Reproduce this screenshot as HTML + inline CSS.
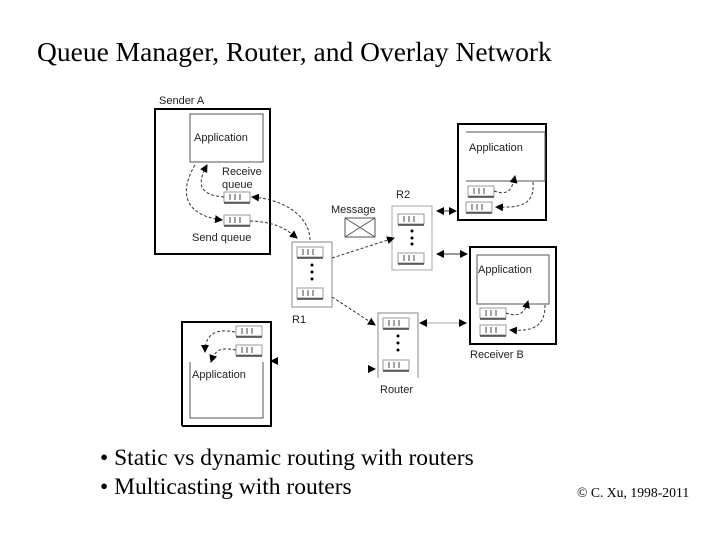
<!DOCTYPE html>
<html><head><style>
body{margin:0;background:#fff;}
svg{display:block}
.s{font-family:"Liberation Sans",sans-serif;font-size:11px;fill:#222}
.t{font-family:"Liberation Serif",serif;fill:#000}
</style></head><body>
<svg width="720" height="540" viewBox="0 0 720 540" xmlns="http://www.w3.org/2000/svg">
<defs>
<marker id="a" markerWidth="8" markerHeight="8" refX="7" refY="4" orient="auto" markerUnits="userSpaceOnUse"><path d="M0,0 L8,4 L0,8 z" fill="#000"/></marker>
<marker id="b" markerWidth="8" markerHeight="8" refX="1" refY="4" orient="auto" markerUnits="userSpaceOnUse"><path d="M8,0 L0,4 L8,8 z" fill="#000"/></marker>
<g id="q"><rect x="0" y="0" width="26" height="10" fill="none" stroke="#999"/><path d="M6,2v6M11,2v6M16,2v6" fill="none" stroke="#444"/><path d="M0,11h26" fill="none" stroke="#444" stroke-width="1.5"/></g>
</defs>
<text class="t" x="37" y="61" font-size="27.5">Queue Manager, Router, and Overlay Network</text>

<g fill="none" stroke="#000">
<rect x="155" y="109" width="115" height="145" stroke-width="2"/>
<rect x="190" y="114" width="73" height="48" stroke="#555"/>
<rect x="458" y="124" width="88" height="96" stroke-width="2"/>
<polyline points="466,132 545,132 545,181 466,181" stroke="#555"/>
<rect x="470" y="247" width="86" height="97" stroke-width="2"/>
<rect x="477" y="255" width="72" height="49" stroke="#555"/>
<polyline points="182,426 182,322 271,322 271,426 182,426" stroke-width="2"/>
<polyline points="190,362 190,418 263,418 263,362" stroke="#555"/>
<rect x="292" y="242" width="40" height="65" stroke="#888"/>
<rect x="392" y="206" width="40" height="64" stroke="#aaa"/>
<polyline points="378,378 378,313 418,313 418,378" stroke="#888"/>
</g>

<use href="#q" x="224" y="192"/>
<use href="#q" x="224" y="215"/>
<use href="#q" x="297" y="247"/>
<use href="#q" x="297" y="288"/>
<use href="#q" x="398" y="214"/>
<use href="#q" x="398" y="253"/>
<use href="#q" x="383" y="318"/>
<use href="#q" x="383" y="360"/>
<use href="#q" x="468" y="186"/>
<use href="#q" x="466" y="202"/>
<use href="#q" x="480" y="308"/>
<use href="#q" x="480" y="325"/>
<use href="#q" x="236" y="326"/>
<use href="#q" x="236" y="345"/>

<g fill="#000">
<circle cx="312" cy="265" r="1.5"/><circle cx="312" cy="272" r="1.5"/><circle cx="312" cy="279" r="1.5"/>
<circle cx="412" cy="231" r="1.5"/><circle cx="412" cy="238" r="1.5"/><circle cx="412" cy="244" r="1.5"/>
<circle cx="398" cy="336" r="1.5"/><circle cx="398" cy="343" r="1.5"/><circle cx="398" cy="350" r="1.5"/>
</g>

<g fill="none" stroke="#555"><rect x="345" y="218" width="30" height="19"/><path d="M345,218 L375,237 M375,218 L345,237"/></g>

<g fill="none" stroke="#333" stroke-dasharray="3,2">
<path d="M224,197 C200,195 196,185 207,165" marker-end="url(#a)"/>
<path d="M195,165 C180,190 182,215 222,220" marker-end="url(#a)"/>
<path d="M310,240 C310,220 290,200 252,197" marker-end="url(#a)"/>
<path d="M250,221 C275,222 285,228 297,238" marker-end="url(#a)"/>
<path d="M332,258 L394,238" marker-end="url(#a)"/>
<path d="M332,297 L375,325" marker-end="url(#a)"/>
<path d="M494,191 C508,196 512,190 515,176" marker-end="url(#a)"/>
<path d="M533,182 C535,205 520,208 496,207" marker-end="url(#a)"/>
<path d="M506,313 C520,318 525,312 528,301" marker-end="url(#a)"/>
<path d="M545,305 C545,325 535,332 510,330" marker-end="url(#a)"/>
<path d="M235,332 C215,328 205,335 205,352" marker-end="url(#a)"/>
<path d="M236,350 C220,347 215,350 211,362" marker-end="url(#a)"/>
</g>
<g stroke="#333" fill="none">
<path d="M437,211 L456,211" marker-start="url(#b)" marker-end="url(#a)"/>
<path d="M437,254 L467,254" marker-start="url(#b)" marker-end="url(#a)"/>
<path d="M420,323 L466,323" stroke="#aaa" marker-start="url(#b)" marker-end="url(#a)"/>
</g>
<path d="M270,361 L278,357 L278,365 z" fill="#000"/>
<path d="M376,369 L368,365 L368,373 z" fill="#000"/>

<text class="s" x="159" y="104">Sender A</text>
<text class="s" x="194" y="141">Application</text>
<text class="s" x="222" y="175">Receive</text>
<text class="s" x="222" y="188">queue</text>
<text class="s" x="192" y="241">Send queue</text>
<text class="s" x="331" y="213">Message</text>
<text class="s" x="396" y="198">R2</text>
<text class="s" x="292" y="323">R1</text>
<text class="s" x="469" y="151">Application</text>
<text class="s" x="478" y="273">Application</text>
<text class="s" x="470" y="358">Receiver B</text>
<text class="s" x="380" y="393">Router</text>
<text class="s" x="192" y="378">Application</text>

<text class="t" x="100" y="465" font-size="23.5">• Static vs dynamic routing with routers</text>
<text class="t" x="100" y="494" font-size="23.5">• Multicasting with routers</text>
<text class="t" x="577" y="497" font-size="13.7">© C. Xu, 1998-2011</text>
</svg>
</body></html>
